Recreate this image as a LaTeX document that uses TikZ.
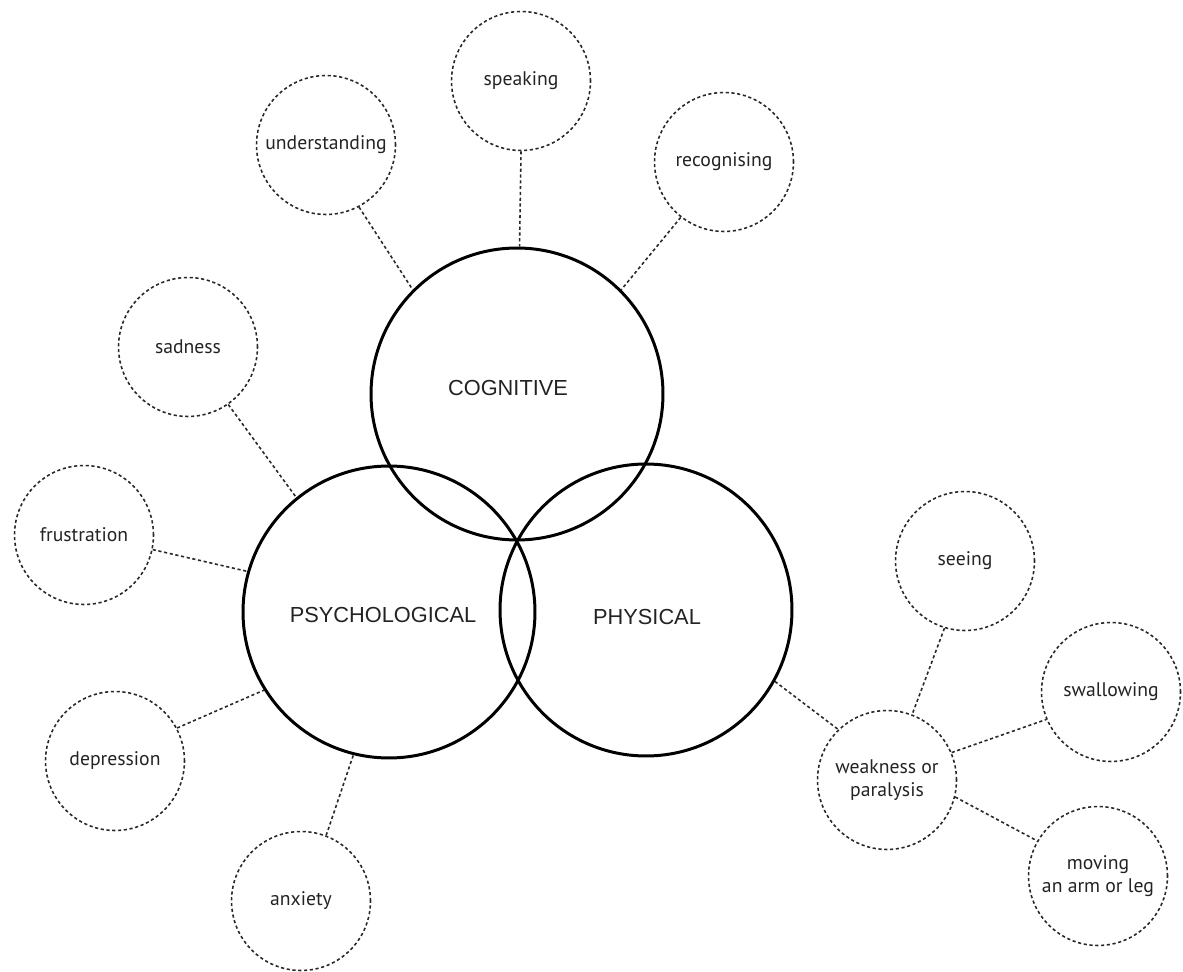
\documentclass[tikz,border=0pt]{standalone}
\usepackage{fontspec}
\setmainfont{PT Sans}
\newfontfamily\capsfont{Liberation Sans}

\begin{document}
\begin{tikzpicture}[x=0.02cm, y=-0.02cm,
    bigcircle/.style={circle, draw=black, line width=1.7pt, minimum size=5.84cm, inner sep=0pt},
    bigtext/.style={text=textgray, font=\capsfont\fontsize{12.4}{14}\selectfont},
    smallcircle/.style={circle, draw=linegray, line width=0.9pt, dash pattern=on 1.8pt off 1.5pt,
        minimum size=2.78cm, inner sep=0pt, align=center, text=textgray,
        font=\fontsize{11.2}{13}\selectfont},
    link/.style={draw=linegray, line width=0.9pt, dash pattern=on 1.8pt off 1.5pt}]

    % --- Definitions ---
    \definecolor{textgray}{RGB}{35, 35, 35}
    \definecolor{linegray}{RGB}{40, 40, 40}

    \useasboundingbox (0,0) rectangle (1183,972);

    % --- Main circles ---
    \node[bigcircle] (cog)   at (517,394) {};
    \node[bigcircle] (psych) at (389,612) {};
    \node[bigcircle] (phys)  at (646,610) {};

    \node[bigtext] (cogtext)   at (508,388) {COGNITIVE};
    \node[bigtext] (psychtext) at (383,615) {PSYCHOLOGICAL};
    \node[bigtext] (phystext)  at (647,617) {PHYSICAL};

    % --- Cognitive ---
    \node[smallcircle] (speak) at (521,81)  {speaking};
    \node[smallcircle] (under) at (326,145) {understanding};
    \node[smallcircle] (recog) at (724,162) {recognising};

    \draw[link] (speak.-90) -- (cog.89);
    \draw[link] (under.-62) -- (cog.135);
    \draw[link] (recog.-128) -- (cog.45);

    % --- Psychological ---
    \node[smallcircle] (sad)   at (188,347) {sadness};
    \node[smallcircle] (frust) at (84,535)  {frustration};
    \node[smallcircle] (depr)  at (115,761) {depression};
    \node[smallcircle] (anx)   at (301,901) {anxiety};

    \draw[link] (sad.-55) -- (psych.129);
    \draw[link] (frust.-12) -- (psych.164);
    \draw[link] (depr.28) -- (psych.-148);
    \draw[link] (anx.69) -- (psych.-104);

    % --- Physical ---
    \node[smallcircle] (weak)  at (887,780)  {weakness or\\paralysis};
    \node[smallcircle] (see)   at (965,561)  {seeing};
    \node[smallcircle] (swal)  at (1111,692) {swallowing};
    \node[smallcircle] (move)  at (1098,876) {moving\\an arm or leg};

    \draw[link] (phys.-29) -- (weak.134);
    \draw[link] (see.-107) -- (weak.69);
    \draw[link] (weak.23) -- (swal.-157);
    \draw[link] (weak.-14) -- (move.150);

\end{tikzpicture}
\end{document}
